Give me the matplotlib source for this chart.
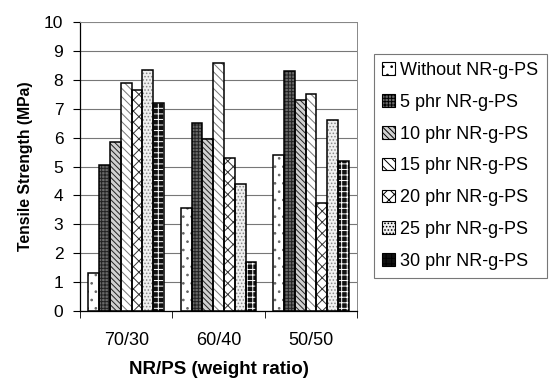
import numpy as np
import matplotlib
matplotlib.use('Agg')
import matplotlib.pyplot as plt
from matplotlib.patches import Patch

plt.rcParams['font.family'] = ['Liberation Sans', 'DejaVu Sans']
plt.rcParams['hatch.linewidth'] = 0.7

ratios = ['70/30', '60/40', '50/50']
series = ['Without NR-g-PS', '5 phr NR-g-PS', '10 phr NR-g-PS', '15 phr NR-g-PS',
          '20 phr NR-g-PS', '25 phr NR-g-PS', '30 phr NR-g-PS']
without = [1.3, 3.55, 5.4]
phr5 = [5.05, 6.5, 8.3]
phr10 = [5.85, 5.95, 7.3]
phr15 = [7.9, 8.6, 7.5]
phr20 = [7.65, 5.3, 3.75]
phr25 = [8.35, 4.4, 6.6]
phr30 = [7.2, 1.7, 5.2]
values = [without, phr5, phr10, phr15, phr20, phr25, phr30]

# fill, hatch, hatch colour per series
styles = [
    ('white', '..', '#666666'),
    ('#6a6a6a', '+++++', '#222222'),
    ('#d0d0d0', '\\\\\\\\\\\\', '#222222'),
    ('white', '\\\\\\\\', '#777777'),
    ('white', 'xxx', '#333333'),
    ('#f0f0f0', '.....', '#888888'),
    ('#111111', '+++', 'white'),
]

fig = plt.figure(figsize=(5.52, 3.82), dpi=100)
ax = fig.add_axes([0.145, 0.186, 0.502, 0.756])

x = np.arange(len(ratios))
w = 0.82 / len(series)
for i, (vals, (fc, h, hc)) in enumerate(zip(values, styles)):
    pos = x - 0.41 + w * (i + 0.5)
    ax.bar(pos, vals, w, color=fc, edgecolor=hc, hatch=h, linewidth=0, zorder=2)
    ax.bar(pos, vals, w, fill=False, edgecolor='black', linewidth=1.1, zorder=3,
           label=series[i])

ax.set_ylim(0, 10)
ax.set_xlim(-0.5, 2.5)
ax.set_yticks(range(0, 11))
ax.yaxis.grid(True, color='#777777', linewidth=0.8, zorder=0)
ax.set_axisbelow(True)
for s in ['top', 'right']:
    ax.spines[s].set_color('#888888')
    ax.spines[s].set_linewidth(0.7)
ax.spines['left'].set_linewidth(0.9)
ax.spines['bottom'].set_linewidth(0.9)

ax.set_xticks(x)
ax.set_xticklabels(ratios)
ax.set_xticks([-0.5, 0.5, 1.5, 2.5], minor=True)
ax.tick_params(axis='x', which='major', length=0, labelsize=13, pad=15)
ax.tick_params(axis='x', which='minor', length=5, direction='out')
ax.tick_params(axis='y', length=5, labelsize=12.5, pad=7)

ax.set_ylabel('Tensile Strength (MPa)', fontsize=11.3, fontweight='bold', labelpad=8)
ax.set_xlabel('NR/PS (weight ratio)', fontsize=13.5, fontweight='bold', labelpad=9)

handles = [Patch(facecolor=fc, edgecolor='black', hatch=h, linewidth=0.8)
           for (fc, h, hc) in styles]
leg = fig.legend(handles, series, loc='upper left', bbox_to_anchor=(0.678, 0.859),
                 fontsize=13, frameon=True, fancybox=False, edgecolor='#555555',
                 handlelength=0.7, handleheight=0.7, handletextpad=0.3,
                 labelspacing=0.82, borderpad=0.45, borderaxespad=0)
leg.get_frame().set_linewidth(0.8)

fig.savefig('out.png', dpi=100)
